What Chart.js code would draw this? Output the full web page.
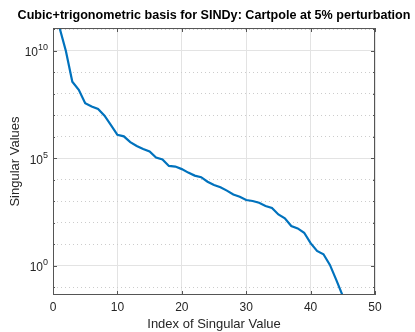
<!DOCTYPE html>
<html>
<head>
<meta charset="utf-8">
<script src="https://cdn.jsdelivr.net/npm/chart.js@4.4.0/dist/chart.umd.min.js"></script>
<style>
  html, body { margin: 0; padding: 0; background: #fff; }
  canvas { display: block; }
</style>
</head>
<body>
<canvas id="chart" width="415" height="332"></canvas>
<script>
// singular value index (x) and singular values (y)
const indices = [1, 2, 3, 4, 5, 6, 7, 8, 9, 10,
                 11, 12, 13, 14, 15, 16, 17, 18, 19, 20,
                 21, 22, 23, 24, 25, 26, 27, 28, 29, 30,
                 31, 32, 33, 34, 35, 36, 37, 38, 39, 40,
                 41, 42, 43, 44, 45];
const singularValues = [1.26e11, 1.0e10, 3.7e8, 1.55e8, 3.7e7, 2.6e7, 2.0e7, 9.8e6, 3.6e6, 1.26e6,
                        1.07e6, 5.8e5, 3.8e5, 2.75e5, 2.1e5, 1.1e5, 9.1e4, 4.5e4, 4.2e4, 3.2e4,
                        2.2e4, 1.6e4, 1.35e4, 8.3e3, 5.9e3, 4.6e3, 3.2e3, 2.1e3, 1.66e3, 1.17e3,
                        1.05e3, 870, 620, 500, 250, 166, 72, 56, 35, 11.5,
                        5.0, 3.5, 1.12, 0.22, 0.04];

const xTicks = [0, 10, 20, 30, 40, 50];
const yMajorExponents = [0, 5, 10];
const yMinorExponents = [-1, 1, 2, 3, 4, 6, 7, 8, 9, 11];
const xLimits = [0, 50];
const yLimits = [0.0447, 1.17e11];

const FONT = '"Liberation Sans", Arial, Helvetica, sans-serif';
const AXIS_COLOR = '#262626';

// MATLAB-like box, inward ticks and 10^n labels
const matlabAxes = {
    id: 'matlabAxes',
    afterDraw(chart) {
        const { ctx, chartArea: a, scales: { x, y } } = chart;
        ctx.save();
        ctx.strokeStyle = '#555';
        ctx.lineWidth = 1;
        ctx.strokeRect(a.left + 0.5, a.top + 0.5, a.right - a.left - 1, a.bottom - a.top - 1);

        ctx.beginPath();
        xTicks.forEach(v => {
            const px = Math.round(x.getPixelForValue(v)) + 0.5;
            ctx.moveTo(px, a.bottom); ctx.lineTo(px, a.bottom - 4);
            ctx.moveTo(px, a.top); ctx.lineTo(px, a.top + 4);
        });
        yMajorExponents.forEach(e => {
            const py = Math.round(y.getPixelForValue(10 ** e)) + 0.5;
            ctx.moveTo(a.left, py); ctx.lineTo(a.left + 4, py);
            ctx.moveTo(a.right, py); ctx.lineTo(a.right - 4, py);
        });
        yMinorExponents.forEach(e => {
            const py = Math.round(y.getPixelForValue(10 ** e)) + 0.5;
            ctx.moveTo(a.left, py); ctx.lineTo(a.left + 2, py);
            ctx.moveTo(a.right, py); ctx.lineTo(a.right - 2, py);
        });
        ctx.stroke();

        ctx.fillStyle = AXIS_COLOR;
        ctx.textAlign = 'right';
        ctx.textBaseline = 'middle';
        yMajorExponents.forEach(e => {
            const py = y.getPixelForValue(10 ** e);
            const exp = String(e);
            ctx.font = '9px ' + FONT;
            const ew = ctx.measureText(exp).width;
            ctx.fillText(exp, a.left - 5, py - 3);
            ctx.font = '12px ' + FONT;
            ctx.fillText('10', a.left - 5 - ew, py + 2);
        });
        ctx.restore();
    }
};

new Chart(document.getElementById('chart'), {
    type: 'line',
    data: {
        datasets: [{
            data: indices.map((v, i) => ({ x: v, y: singularValues[i] })),
            borderColor: '#0072BD',
            borderWidth: 2.2,
            pointRadius: 0,
            tension: 0,
            fill: false,
            clip: 0
        }]
    },
    options: {
        responsive: false,
        animation: false,
        devicePixelRatio: 1,
        layout: { padding: { left: 13, right: 0, top: 0, bottom: 0 } },
        plugins: {
            legend: { display: false },
            tooltip: { enabled: false },
            title: {
                display: true,
                text: 'Cubic+trigonometric basis for SINDy: Cartpole at 5% perturbation',
                color: '#000',
                font: { family: FONT, size: 12.6, weight: 'bold' },
                padding: { top: 7.5, bottom: 5.4 }
            }
        },
        scales: {
            x: {
                type: 'linear',
                min: xLimits[0],
                max: xLimits[1],
                afterBuildTicks: s => { s.ticks = xTicks.map(v => ({ value: v })); },
                afterFit: s => { s.height = 37; },
                grid: { color: '#e3e3e3', drawTicks: false },
                border: { display: false },
                ticks: { color: AXIS_COLOR, font: { family: FONT, size: 12 }, padding: 5, maxRotation: 0 },
                title: {
                    display: true,
                    text: 'Index of Singular Value',
                    color: AXIS_COLOR,
                    font: { family: FONT, size: 13 },
                    padding: { top: 0, bottom: 0 }
                }
            },
            y: {
                type: 'logarithmic',
                min: yLimits[0],
                max: yLimits[1],
                afterBuildTicks: s => { s.ticks = yMajorExponents.map(e => ({ value: 10 ** e })); },
                afterFit: s => { s.width = 40; },
                grid: { color: '#e3e3e3', drawTicks: false },
                border: { display: false },
                ticks: { callback: () => '' },
                title: {
                    display: true,
                    text: 'Singular Values',
                    color: AXIS_COLOR,
                    font: { family: FONT, size: 13 },
                    padding: { top: -5.8, bottom: 0 }
                }
            },
            yMinor: {
                type: 'logarithmic',
                position: 'right',
                min: yLimits[0],
                max: yLimits[1],
                afterBuildTicks: s => { s.ticks = yMinorExponents.map(e => ({ value: 10 ** e })); },
                afterFit: s => { s.width = 40; },
                grid: { color: '#cccccc', drawTicks: false },
                border: { display: false, dash: [1, 3] },
                ticks: { display: false }
            }
        }
    },
    plugins: [matlabAxes]
});
</script>
</body>
</html>
